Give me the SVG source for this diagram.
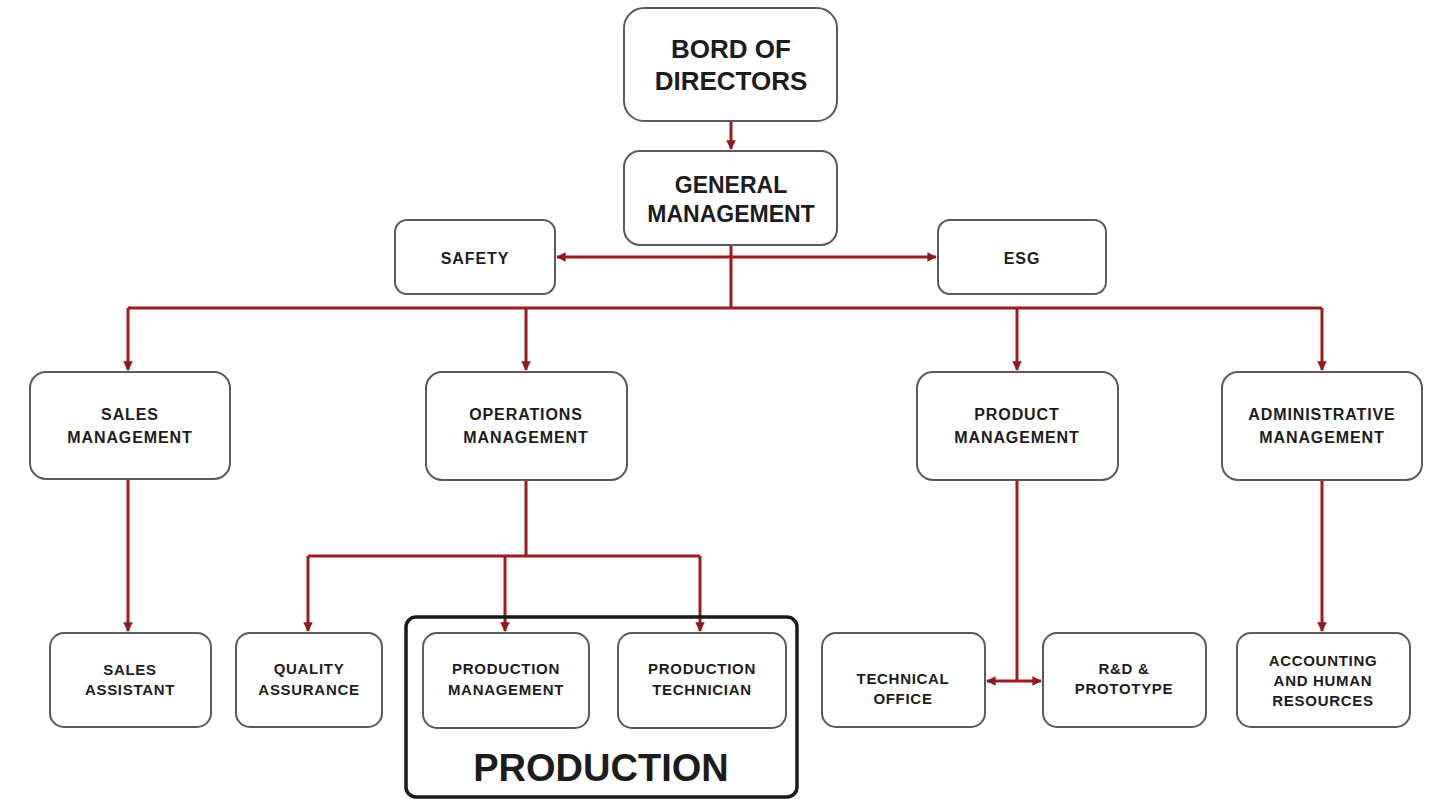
<svg xmlns="http://www.w3.org/2000/svg" width="1431" height="799" viewBox="0 0 1431 799">
<defs>
<marker id="ah" viewBox="0 0 10 10" refX="9" refY="5" markerWidth="3.2" markerHeight="3.2" orient="auto-start-reverse" markerUnits="strokeWidth">
<path d="M0,0 L10,5 L0,10 z" fill="#8e1a1f"/>
</marker>
<style>
.box{fill:#fff;stroke:#5a5a5a;stroke-width:2}
.big{fill:none;stroke:#1a1a1a;stroke-width:3.5}
.c{fill:none;stroke:#9a1b20;stroke-width:3}
.t{font-family:"Liberation Sans",Arial,sans-serif;font-weight:bold;fill:#1c1c1c;text-anchor:middle}
.t1{font-size:26px}
.t2{font-size:23px}
.t3{font-size:16px;letter-spacing:0.9px}
.t4{font-size:15px;letter-spacing:0.7px}
.t5{font-size:38px}
</style>
</defs>
<rect width="1431" height="799" fill="#fff"/>
<g id="connectors">
<path class="c" d="M731,121 V149" marker-end="url(#ah)"/>
<path class="c" d="M731,245 V308"/>
<path class="c" d="M731,257 H557" marker-end="url(#ah)"/>
<path class="c" d="M731,257 H936" marker-end="url(#ah)"/>
<path class="c" d="M128,308 H1322"/>
<path class="c" d="M128,308 V370" marker-end="url(#ah)"/>
<path class="c" d="M526,308 V370" marker-end="url(#ah)"/>
<path class="c" d="M1017,308 V370" marker-end="url(#ah)"/>
<path class="c" d="M1322,308 V370" marker-end="url(#ah)"/>
<path class="c" d="M128,479 V631" marker-end="url(#ah)"/>
<path class="c" d="M526,480 V556"/>
<path class="c" d="M308,556 H700"/>
<path class="c" d="M308,556 V631" marker-end="url(#ah)"/>
<path class="c" d="M505,556 V631" marker-end="url(#ah)"/>
<path class="c" d="M700,556 V631" marker-end="url(#ah)"/>
<path class="c" d="M1322,480 V631" marker-end="url(#ah)"/>
<path class="c" d="M1017,480 V681"/>
<path class="c" d="M1017,681 H987" marker-end="url(#ah)"/>
<path class="c" d="M1017,681 H1041" marker-end="url(#ah)"/>
</g>
<g id="board">
<rect class="box" x="624" y="8" width="213" height="113" rx="20"/>
<text class="t t1" x="731" y="58">BORD OF</text>
<text class="t t1" x="731" y="90">DIRECTORS</text>
</g>
<g id="general">
<rect class="box" x="624" y="151" width="213" height="94" rx="16"/>
<text class="t t2" x="731" y="193">GENERAL</text>
<text class="t t2" x="731" y="222">MANAGEMENT</text>
</g>
<g id="safety">
<rect class="box" x="395" y="220" width="160" height="74" rx="12"/>
<text class="t t3" x="475" y="264">SAFETY</text>
</g>
<g id="esg">
<rect class="box" x="938" y="220" width="168" height="74" rx="12"/>
<text class="t t3" x="1022" y="264">ESG</text>
</g>
<g id="sales">
<rect class="box" x="30" y="372" width="200" height="107" rx="16"/>
<text class="t t3" x="130" y="420">SALES</text>
<text class="t t3" x="130" y="443">MANAGEMENT</text>
</g>
<g id="operations">
<rect class="box" x="426" y="372" width="201" height="108" rx="16"/>
<text class="t t3" x="526" y="420">OPERATIONS</text>
<text class="t t3" x="526" y="443">MANAGEMENT</text>
</g>
<g id="product">
<rect class="box" x="917" y="372" width="201" height="108" rx="16"/>
<text class="t t3" x="1017" y="420">PRODUCT</text>
<text class="t t3" x="1017" y="443">MANAGEMENT</text>
</g>
<g id="admin">
<rect class="box" x="1222" y="372" width="200" height="108" rx="16"/>
<text class="t t3" x="1322" y="420">ADMINISTRATIVE</text>
<text class="t t3" x="1322" y="443">MANAGEMENT</text>
</g>
<g id="production">
<rect class="big" x="406" y="617" width="391" height="180" rx="10"/>
<text class="t t5" x="601" y="781">PRODUCTION</text>
</g>
<g id="sales-assistant">
<rect class="box" x="50" y="633" width="161" height="94" rx="14"/>
<text class="t t4" x="130" y="675">SALES</text>
<text class="t t4" x="130" y="695">ASSISTANT</text>
</g>
<g id="quality">
<rect class="box" x="236" y="633" width="146" height="94" rx="14"/>
<text class="t t4" x="309" y="674">QUALITY</text>
<text class="t t4" x="309" y="695">ASSURANCE</text>
</g>
<g id="prod-mgmt">
<rect class="box" x="423" y="633" width="166" height="95" rx="14"/>
<text class="t t4" x="506" y="674">PRODUCTION</text>
<text class="t t4" x="506" y="695">MANAGEMENT</text>
</g>
<g id="prod-tech">
<rect class="box" x="618" y="633" width="168" height="95" rx="14"/>
<text class="t t4" x="702" y="674">PRODUCTION</text>
<text class="t t4" x="702" y="695">TECHNICIAN</text>
</g>
<g id="tech-office">
<rect class="box" x="822" y="633" width="163" height="94" rx="14"/>
<text class="t t4" x="903" y="684">TECHNICAL</text>
<text class="t t4" x="903" y="704">OFFICE</text>
</g>
<g id="rnd">
<rect class="box" x="1043" y="633" width="163" height="94" rx="14"/>
<text class="t t4" x="1124" y="674">R&amp;D &amp;</text>
<text class="t t4" x="1124" y="694">PROTOTYPE</text>
</g>
<g id="accounting">
<rect class="box" x="1237" y="633" width="173" height="94" rx="14"/>
<text class="t t4" x="1323" y="666">ACCOUNTING</text>
<text class="t t4" x="1323" y="686">AND HUMAN</text>
<text class="t t4" x="1323" y="706">RESOURCES</text>
</g>
</svg>
